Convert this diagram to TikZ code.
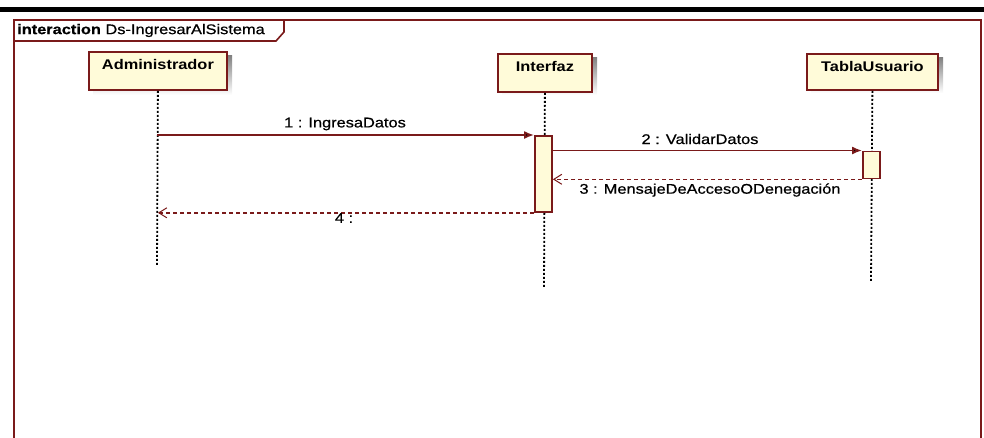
\documentclass[tikz,border=0pt]{standalone}
\usepackage{fontspec}
\setmainfont[FakeStretch=1.17]{Liberation Sans}
\newfontfamily\heavyfont[FakeStretch=1.17,FakeBold=0.6]{Liberation Sans}
\usetikzlibrary{arrows.meta,calc}
\definecolor{maroon}{HTML}{7A1A1A}
\definecolor{cream}{HTML}{FFFBD9}
\definecolor{shade}{HTML}{E6EEF8}
\tikzset{
  x=1pt,y=-1pt,
  lifebox/.style={draw=maroon,line width=1.8pt,fill=cream,minimum height=38pt,inner sep=0pt,anchor=north west},
  lifelabel/.style={font=\fontsize{14}{16}\selectfont\bfseries,anchor=north},
  lifeline/.style={draw=black,line width=1.8pt,dash pattern=on 2pt off 2pt},
  actbox/.style={draw=maroon,line width=1.8pt,fill=cream,inner sep=0pt},
  msg/.style={draw=maroon,line width=1.8pt,-{Latex[length=10pt,width=8pt,fill=black]}},
  ret/.style={draw=maroon,line width=1.6pt,dash pattern=on 4pt off 3pt,-{Straight Barb[length=8pt,width=10pt,line width=1pt]}},
  msglabel/.style={font=\heavyfont\fontsize{14}{16}\selectfont,inner sep=0pt}
}
\begin{document}
\begin{tikzpicture}
\useasboundingbox (0,0) rectangle (984,437);
% top black bar
\fill[black] (0,7) rectangle (984,12);
% frame
\draw[maroon,line width=2pt] (14,440) -- (14,20) -- (981,20) -- (981,440);
\draw[maroon,line width=1.6pt] (14,41) -- (276,41) -- (284,32) -- (284,20);
\node[anchor=west,inner sep=0pt,font=\heavyfont\fontsize{14}{16}\selectfont] (title) at (17,30.5) {\textbf{interaction} Ds-IngresarAlSistema};
% shadows
\fill[shade] (93,55) rectangle (232,95);
\fill[shade] (502,57) rectangle (597,95);
\fill[shade] (811,57) rectangle (943,93);
% lifeline boxes
\node[lifebox,minimum width=138pt] (adm) at (88,51) {};
\node[lifebox,minimum width=94pt] (int) at (497,53) {};
\node[lifebox,minimum width=131pt,minimum height=36pt] (tab) at (806,53) {};
\node[lifelabel] (admt) at ($(adm.north)+(0,5)$) {Administrador};
\node[lifelabel] (intt) at ($(int.north)+(0,5)$) {Interfaz};
\node[lifelabel] (tabt) at ($(tab.north)+(0,5)$) {TablaUsuario};
% lifeline ends
\coordinate (admend) at (157,265);
\coordinate (intend) at (544,288);
\coordinate (tabend) at (871,282);
\draw[lifeline] (adm.south) -- (admend);
\draw[lifeline] (int.south) -- (intend);
\draw[lifeline] (tab.south) -- (tabend);
% activations
\node[actbox,minimum width=17pt,minimum height=76pt,anchor=north] (act1) at (543.5,135) {};
\node[actbox,minimum width=17pt,minimum height=27pt,anchor=north] (act2) at (871.5,150.5) {};
% messages
\coordinate (m1s) at (157,135);
\draw[msg] (m1s) -- (act1.north west);
\node[msglabel] (l1) at (345,124) {1 : IngresaDatos};
\draw[msg] (act1.east |- act2.north west) -- (act2.north west);
\node[msglabel] (l2) at (700,139) {2 : ValidarDatos};
\draw[ret] (act2.south west) -- (act2.south west -| act1.east);
\node[msglabel] (l3) at (710,190) {3 : MensajeDeAccesoODenegación};
\coordinate (m4e) at (act1.south west -| adm.south);
\draw[ret] (act1.south west) -- (m4e);
\node[msglabel] (l4) at (344,218) {4 :};
\end{tikzpicture}
\end{document}
